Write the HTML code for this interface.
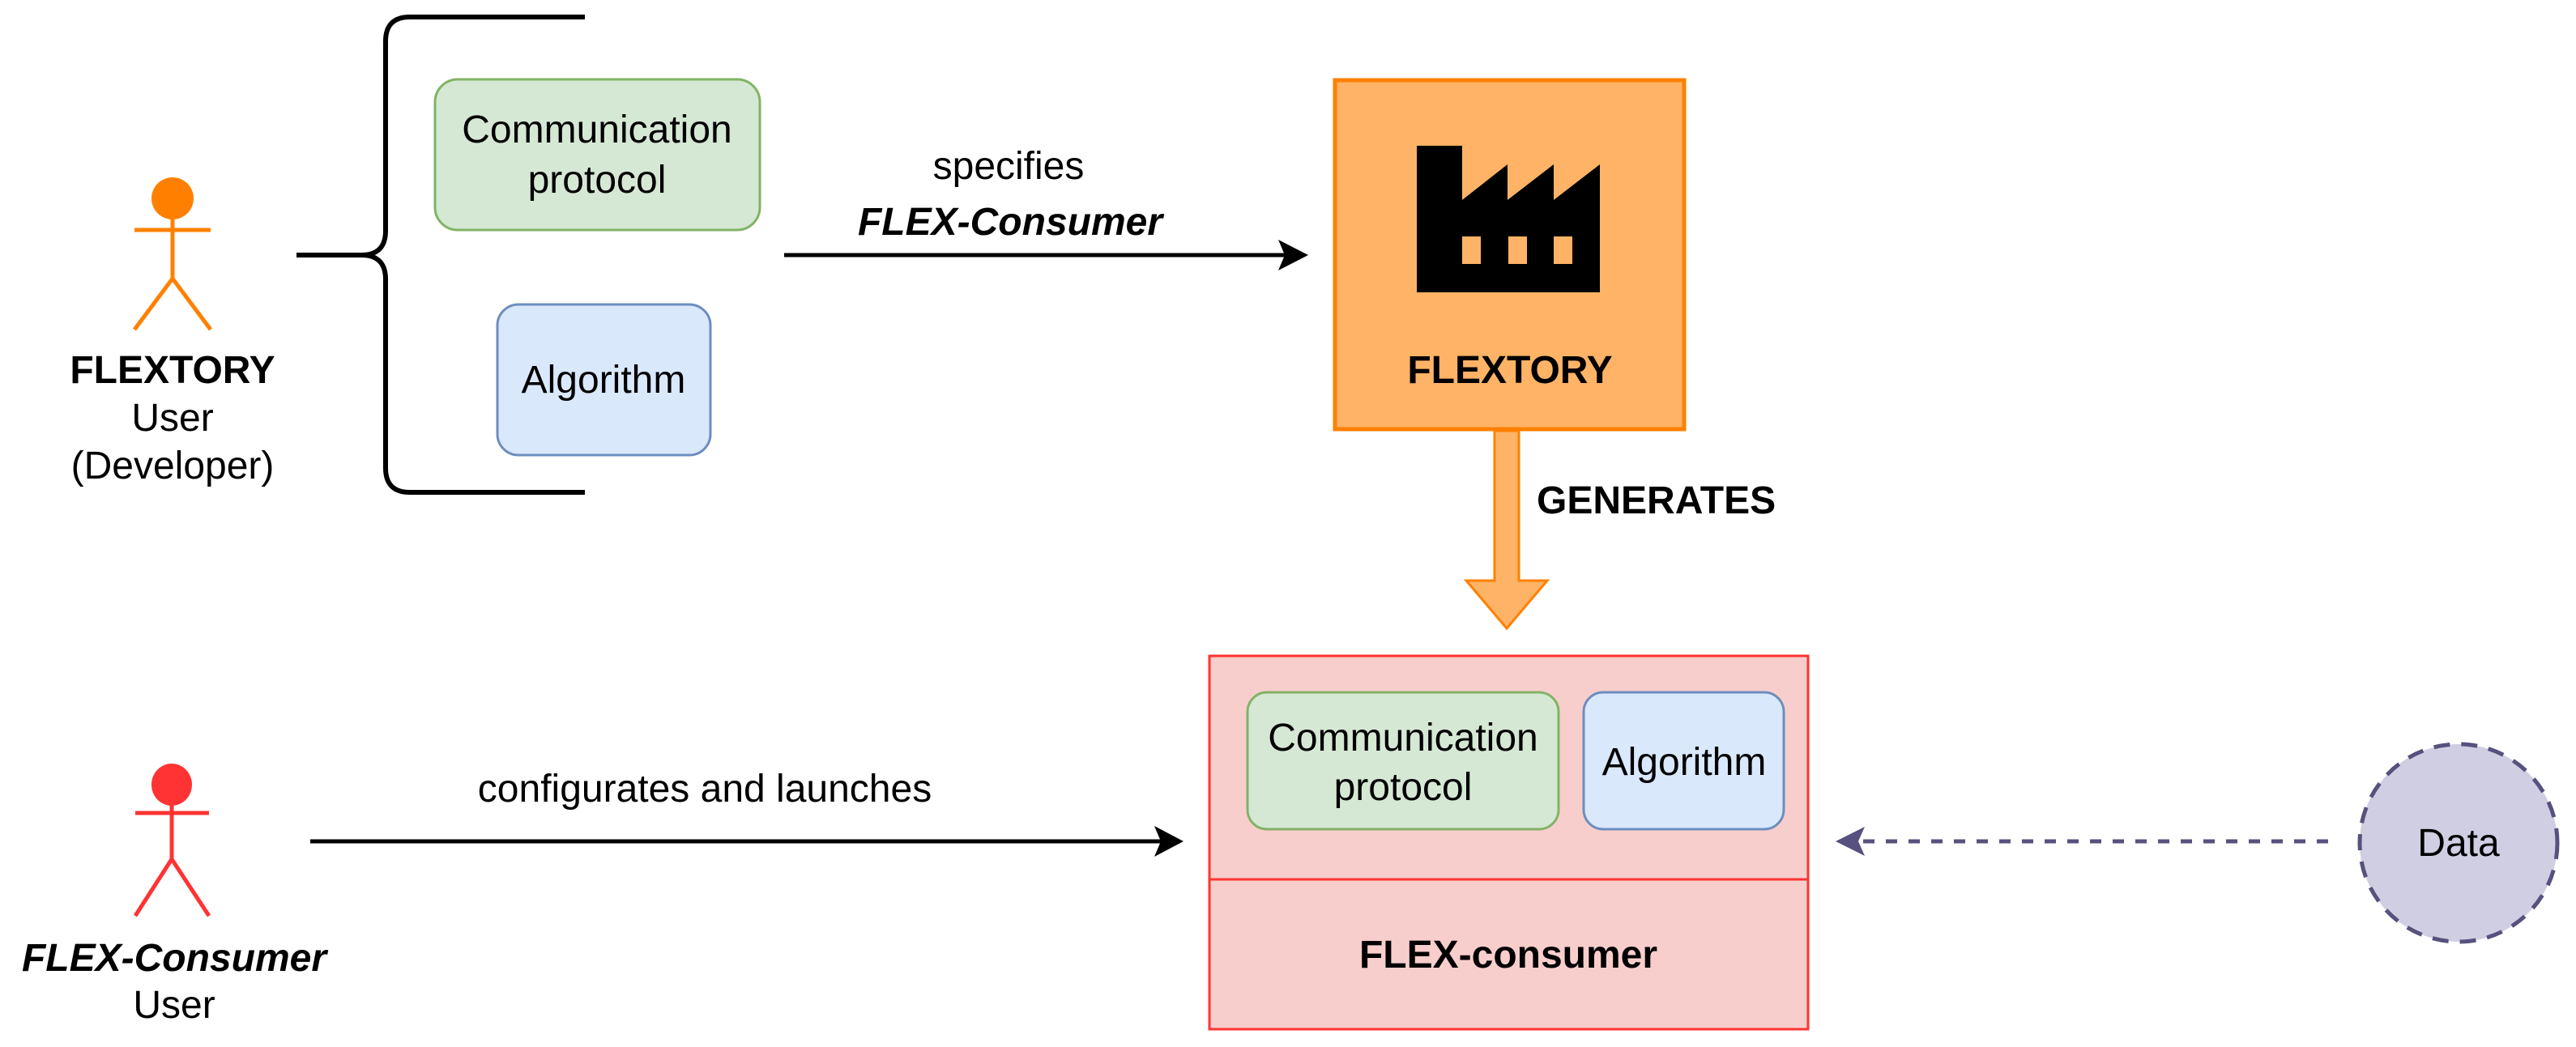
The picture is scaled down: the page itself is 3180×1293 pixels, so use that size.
<!DOCTYPE html>
<html><head><meta charset="utf-8"><style>
html,body{margin:0;padding:0;background:#fff;}
svg{display:block;}
text{font-family:"Liberation Sans",Arial,sans-serif;font-size:48px;fill:#000;}
</style></head><body>
<svg width="3180" height="1293" viewBox="0 0 3180 1293" xmlns="http://www.w3.org/2000/svg">
<!-- Orange actor -->
<g stroke="#FF8000" stroke-width="5" fill="none">
<line x1="166" y1="284" x2="260" y2="284"/>
<line x1="213" y1="271" x2="213" y2="344"/>
<line x1="213" y1="344" x2="166" y2="407"/>
<line x1="213" y1="344" x2="260" y2="407"/>
</g>
<circle cx="213" cy="245" r="26" fill="#FF8000"/>
<text x="213" y="473" text-anchor="middle" font-weight="bold">FLEXTORY</text>
<text x="213" y="532" text-anchor="middle">User</text>
<text x="213" y="591" text-anchor="middle">(Developer)</text>

<!-- Brace -->
<path d="M722,21 L506,21 Q476,21 476,51 L476,285 Q476,315 446,315 L366,315 M446,315 Q476,315 476,345 L476,578 Q476,608 506,608 L722,608" stroke="#000" stroke-width="6" fill="none"/>

<!-- Boxes top -->
<rect x="537" y="98" width="401" height="186" rx="28" fill="#D5E8D4" stroke="#82B366" stroke-width="3"/>
<text x="737" y="176" text-anchor="middle">Communication</text>
<text x="737" y="238" text-anchor="middle">protocol</text>
<rect x="614" y="376" width="263" height="186" rx="26" fill="#DAE8FC" stroke="#6C8EBF" stroke-width="3"/>
<text x="745" y="485" text-anchor="middle">Algorithm</text>

<!-- specifies arrow -->
<line x1="968" y1="315" x2="1590" y2="315" stroke="#000" stroke-width="5"/>
<path d="M1615,315 L1578,296 L1586,315 L1578,334 Z" fill="#000"/>
<text x="1245" y="221" text-anchor="middle">specifies</text>
<text x="1247" y="290" text-anchor="middle" font-weight="bold" font-style="italic">FLEX-Consumer</text>

<!-- Factory -->
<rect x="1648" y="99" width="431" height="431" fill="#FFB366" stroke="#FF8000" stroke-width="5"/>
<path d="M1749,180 L1805,180 L1805,247 L1861,203 L1861,247 L1918,203 L1918,247 L1975,203 L1975,361 L1749,361 Z" fill="#000"/>
<rect x="1805" y="292" width="23" height="34" fill="#FFB366"/>
<rect x="1862" y="292" width="23" height="34" fill="#FFB366"/>
<rect x="1918" y="292" width="23" height="34" fill="#FFB366"/>
<text x="1864" y="473" text-anchor="middle" font-weight="bold">FLEXTORY</text>

<!-- Generates arrow -->
<path d="M1845,532 L1875,532 L1875,717 L1910,717 L1860,776 L1810,717 L1845,717 Z" fill="#FFB366" stroke="#FF8000" stroke-width="3"/>
<text x="1897" y="634" font-weight="bold">GENERATES</text>

<!-- FLEX-consumer -->
<rect x="1493" y="810" width="739" height="461" fill="#F8CECC" stroke="#FF3333" stroke-width="3"/>
<line x1="1493" y1="1086" x2="2232" y2="1086" stroke="#FF3333" stroke-width="3"/>
<rect x="1540" y="855" width="384" height="169" rx="24" fill="#D5E8D4" stroke="#82B366" stroke-width="3"/>
<text x="1732" y="927" text-anchor="middle">Communication</text>
<text x="1732" y="988" text-anchor="middle">protocol</text>
<rect x="1955" y="855" width="247" height="169" rx="24" fill="#DAE8FC" stroke="#6C8EBF" stroke-width="3"/>
<text x="2079" y="957" text-anchor="middle">Algorithm</text>
<text x="1862" y="1195" text-anchor="middle" font-weight="bold">FLEX-consumer</text>

<!-- Red actor -->
<g stroke="#FF3333" stroke-width="5" fill="none">
<line x1="167" y1="1004" x2="258" y2="1004"/>
<line x1="212" y1="992" x2="212" y2="1061"/>
<line x1="212" y1="1061" x2="167" y2="1131"/>
<line x1="212" y1="1061" x2="258" y2="1131"/>
</g>
<ellipse cx="212" cy="969" rx="25" ry="26" fill="#FF3333"/>
<text x="215" y="1199" text-anchor="middle" font-weight="bold" font-style="italic">FLEX-Consumer</text>
<text x="215" y="1257" text-anchor="middle">User</text>

<!-- configurates arrow -->
<line x1="383" y1="1039" x2="1440" y2="1039" stroke="#000" stroke-width="5"/>
<path d="M1461,1039 L1425,1020 L1433,1039 L1425,1058 Z" fill="#000"/>
<text x="870" y="990" text-anchor="middle">configurates and launches</text>

<!-- Data -->
<line x1="2300" y1="1039" x2="2881" y2="1039" stroke="#56517E" stroke-width="5" stroke-dasharray="14 14"/>
<path d="M2266,1039 L2302,1021 L2294,1039 L2302,1057 Z" fill="#56517E"/>
<circle cx="3035" cy="1041" r="122" fill="#D0CEE2" stroke="#56517E" stroke-width="5" stroke-dasharray="20 14"/>
<text x="3035" y="1057" text-anchor="middle">Data</text>
</svg>
</body></html>
